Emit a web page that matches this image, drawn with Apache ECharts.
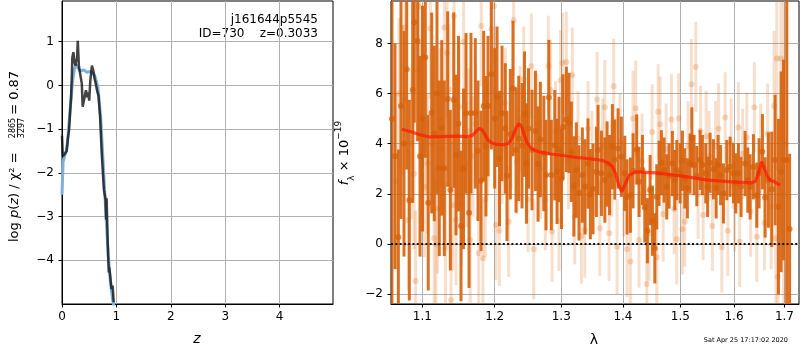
<!DOCTYPE html>
<html><head><meta charset="utf-8">
<script src="https://cdn.jsdelivr.net/npm/echarts@6/dist/echarts.min.js"></script>
<style>html,body{margin:0;padding:0;background:#fff}#c{width:800px;height:350px}</style>
</head><body><div id="c"></div>
<script>
// ---- tick labels ----
const zTicks = [0, 1, 2, 3, 4];
const logpTicks = [-4, -3, -2, -1, 0, 1];
const waveTicks = [1.1, 1.2, 1.3, 1.4, 1.5, 1.6, 1.7];
const fluxTicks = [-2, 0, 2, 4, 6, 8];

// ---- left panel: p(z) ----
const zChi = [0, 0.015, 0.025, 0.06, 0.086, 0.11, 0.13, 0.15, 0.167, 0.18, 0.19, 0.21, 0.23, 0.25, 0.26, 0.275, 0.29, 0.31, 0.333, 0.364, 0.38, 0.41, 0.44, 0.46, 0.48, 0.50, 0.52, 0.55, 0.575, 0.60, 0.62, 0.65, 0.67, 0.70, 0.73, 0.77, 0.80, 0.81, 0.82, 0.84, 0.86, 0.87, 0.91, 0.93, 0.95];
const logpChi = [-1.15, -1.62, -1.59, -1.55, -1.5, -1.2, -1.02, -0.6, -0.27, 0.2, 0.64, 0.76, 0.53, 0.45, 0.6, 0.55, 1.02, 0.45, 0.27, 0.04, -0.49, -0.45, -0.11, -0.27, -0.16, -0.35, 0.11, 0.45, 0.34, 0.15, 0.04, -0.15, -0.23, -0.72, -1.55, -2.39, -2.61, -3.07, -2.58, -3.6, -4.28, -4.17, -4.66, -4.58, -4.96];
const zFit = [0, 0.02, 0.05, 0.08, 0.1, 0.12, 0.15, 0.18, 0.2, 0.23, 0.26, 0.29, 0.33, 0.36, 0.4, 0.43, 0.46, 0.49, 0.52, 0.55, 0.6, 0.63, 0.66, 0.71, 0.74, 0.77, 0.8, 0.85, 0.89, 0.93, 0.96];
const logpFit = [-2.5, -1.75, -1.6, -1.5, -1.3, -1.0, -0.55, -0.1, 0.15, 0.38, 0.47, 0.45, 0.33, 0.3, 0.35, 0.36, 0.3, 0.27, 0.32, 0.36, 0.23, 0.1, -0.04, -0.72, -1.4, -2.08, -2.76, -3.9, -4.5, -4.9, -5.1];

// ---- right panel: spectrum (lambda in micron, f_lambda in 1e-19) ----
const darkWave = [1.0606,1.0645,1.0688,1.0722,1.0761,1.0796,1.0830,1.0874,1.0895,1.0939,
1.0970,1.1003,1.1040,1.1079,1.1125,1.1160,1.1196,1.1227,1.1260,1.1295,
1.1341,1.1377,1.1424,1.1455,1.1489,1.1524,1.1559,1.1594,1.1636,1.1663,
1.1724,1.1762,1.1804,1.1842,1.1875,1.1904,1.1952,1.2000,1.2034,1.2070,
1.2106,1.2154,1.2179,1.2228,1.2267,1.2312,1.2352,1.2401,1.2438,1.2468,
1.2498,1.2551,1.2602,1.2642,1.2678,1.2730,1.2764,1.2807,1.2846,1.2899,
1.2934,1.2965,1.3004,1.3028,1.3080,1.3122,1.3159,1.3198,1.3238,1.3280,
1.3334,1.3377,1.3425,1.3463,1.3506,1.3561,1.3588,1.3643,1.3699,1.3736,
1.3777,1.3824,1.3864,1.3919,1.3974,1.4031,1.4070,1.4127,1.4172,1.4234,
1.4274,1.4332,1.4373,1.4418,1.4465,1.4506,1.4547,1.4581,1.4622,1.4663,
1.4710,1.4757,1.4799,1.4858,1.4901,1.4936,1.4996,1.5038,1.5081,1.5128,
1.5177,1.5210,1.5250,1.5300,1.5361,1.5404,1.5466,1.5500,1.5547,1.5609,
1.5660,1.5697,1.5744,1.5798,1.5862,1.5925,1.5989,1.6034,1.6085,1.6137,
1.6215,1.6267,1.6313,1.6378,1.6444,1.6490,1.6556,1.6610,1.6676,1.6743,
1.6811,1.6878,1.6932,1.6980,1.7048,1.7106];
const darkFlux = [5.0,3.5,0.27,5.5,4.0,6.97,1.75,6.14,8.84,8.10,
3.5,5.0,7.44,1.65,5.23,4.41,6.0,3.02,4.63,3.02,
5.78,2.15,5.74,3.55,4.8,0.72,3.0,5.21,1.25,5.22,
5.21,3.72,2.52,5.50,3.9,5.50,6.77,5.01,5.87,3.41,
5.21,4.61,2.72,4.38,6.20,3.75,4.21,3.92,5.18,3.21,
4.61,3.75,4.51,3.19,4.17,3.61,2.75,5.84,2.75,3.94,
2.9,3.77,2.6,4.67,4.97,4.83,3.68,2.3,2.95,2.04,
2.75,2.28,3.21,1.99,2.19,2.88,3.75,2.82,2.55,3.19,
2.75,3.88,3.37,3.81,3.48,2.82,1.88,1.95,2.92,3.77,
2.48,2.95,1.46,0.53,2.15,0.93,-0.17,1.88,2.82,3.24,
2.95,2.28,2.71,3.21,2.55,2.95,2.82,3.32,2.62,2.22,
3.21,4.25,3.15,2.71,3.35,3.15,2.82,2.28,3.24,2.98,
2.22,3.15,2.75,2.02,2.95,3.08,2.82,2.42,2.82,2.28,
3.21,2.55,2.28,3.08,1.95,2.82,3.68,1.86,2.55,2.18,
3.35,1.49,2.88,3.35,3.35,0.6];
const darkErr = [8,4.5,3.5,4.5,4.5,4.0,4.0,4.5,4.0,4.0,
4.0,4.5,4.0,3.5,4.0,3.5,4.0,3.5,3.5,3.5,
3.5,3.2,3.5,3.2,3.5,3.0,3.2,3.2,3.0,3.2,
3.0,2.8,2.8,3.0,2.8,2.8,3.0,2.8,2.8,2.7,
2.7,2.6,2.6,2.6,2.7,2.5,2.5,2.5,2.5,2.4,
2.4,2.4,2.4,2.3,2.3,2.3,2.2,2.3,2.2,2.2,
2.1,2.1,2.0,2.1,2.1,2.0,2.0,2.0,1.9,1.9,
1.9,1.9,1.8,1.8,1.8,1.8,1.8,1.7,1.7,1.7,
1.6,1.7,1.6,1.6,1.6,1.5,1.5,1.5,1.5,1.4,
1.4,1.4,1.4,1.3,1.4,1.4,1.4,1.3,1.3,1.3,
1.3,1.3,1.3,1.3,1.2,1.2,1.2,1.2,1.2,1.2,
1.2,1.2,1.2,1.2,1.2,1.2,1.2,1.2,1.2,1.2,
1.2,1.2,1.2,1.2,1.2,1.2,1.2,1.2,1.2,1.2,
1.3,1.3,1.3,1.3,1.3,1.4,1.5,1.6,1.9,2.3,
2.6,3.5,4.0,4.0,9.0,3.0];

const lightWave = [1.0658,1.0697,1.0744,1.0774,1.0817,1.0852,1.0891,1.0911,1.0939,1.0960,
1.0983,1.1026,1.1049,1.1069,1.1106,1.1135,1.1158,1.1182,1.1205,1.1237,
1.1264,1.1295,1.1311,1.1331,1.1362,1.1387,1.1410,1.1428,1.1455,1.1500,
1.1531,1.1561,1.1604,1.1629,1.1653,1.1691,1.1727,1.1772,1.1808,1.1832,
1.1865,1.1904,1.1952,1.1973,1.1990,1.2019,1.2067,1.2106,1.2154,1.2204,
1.2238,1.2277,1.2327,1.2371,1.2426,1.2491,1.2541,1.2577,1.2627,1.2681,
1.2754,1.2799,1.2834,1.2857,1.2911,1.2965,1.2989,1.3020,1.3079,1.3114,
1.3174,1.3212,1.3265,1.3318,1.3372,1.3425,1.3490,1.3572,1.3616,1.3662,
1.3698,1.3769,1.3810,1.3846,1.3902,1.3952,1.4011,1.4070,1.4126,1.4172,
1.4218,1.4274,1.4326,1.4407,1.4447,1.4500,1.4582,1.4605,1.4640,1.4693,
1.4746,1.4840,1.4888,1.4936,1.4969,1.5037,1.5081,1.5140,1.5201,1.5282,
1.5324,1.5370,1.5417,1.5473,1.5528,1.5590,1.5650,1.5707,1.5767,1.5830,
1.5881,1.5944,1.6011,1.6085,1.6108,1.6167,1.6248,1.6323,1.6397,1.6445,
1.6520,1.6596,1.6660,1.6730,1.6790,1.6825,1.6845,1.6866,1.6926,1.6983,
1.7034];
const lightFlux = [2.5,6.0,5.74,8.63,0.96,4.0,2.8,-1.47,6.93,9.48,
5.21,2.28,4.74,3.21,8.59,4.0,0.23,-0.01,1.42,5.0,
3.8,8.63,-0.15,7.62,6.16,-2.23,1.55,9.08,0.96,5.47,
1.62,8.06,3.18,4.5,0.16,3.5,4.8,-0.37,8.69,-0.57,
1.78,4.2,8.57,6.14,9.48,0.76,0.53,3.8,5.61,0.89,
4.4,8.92,3.3,5.0,6.57,1.78,7.09,-0.21,4.8,3.0,
1.75,7.10,6.14,0.49,4.5,0.93,6.53,7.22,7.26,3.3,
6.73,1.09,4.2,0.32,0.56,4.6,3.4,5.76,0.63,3.9,
5.45,0.43,3.0,6.29,-0.11,4.1,2.2,-0.21,-0.7,5.01,
5.41,0.16,3.3,-1.59,0.43,4.47,-0.53,5.27,4.78,1.2,
3.8,4.97,1.4,0.19,5.01,0.59,0.89,3.9,6.37,7.06,
2.0,4.51,1.16,4.3,3.5,0.72,3.9,4.6,-0.13,5.05,
0.53,4.0,1.5,4.65,0.09,3.6,4.25,1.3,5.45,0.29,
3.8,0.85,4.4,1.5,5.5,0.23,7.40,-1.3,7.40,2.0,
4.0];
const lightErr = [3.5,3.0,3.0,3.0,2.8,3.0,3.0,2.8,2.8,3.0,
2.8,2.8,2.8,2.8,2.8,2.8,2.8,2.6,2.6,2.8,
2.6,2.8,2.6,2.6,2.6,2.6,2.6,2.6,2.6,2.6,
2.5,2.6,2.5,2.5,2.5,2.4,2.4,2.3,2.4,2.3,
2.3,2.3,2.3,2.3,2.3,2.2,2.2,2.2,2.2,2.2,
2.2,2.2,2.1,2.1,2.1,2.1,2.1,2.0,2.0,2.0,
2.0,2.0,2.0,2.0,2.0,2.0,2.0,2.0,2.0,1.9,
1.9,1.9,1.9,1.9,1.9,1.9,1.9,1.9,1.9,1.9,
1.9,1.9,1.9,1.9,1.9,1.9,1.9,1.9,1.9,1.9,
1.9,1.9,1.9,1.9,1.9,1.9,1.9,1.9,1.9,1.9,
1.8,1.8,1.8,1.8,1.8,1.8,1.8,1.8,1.8,1.8,
1.8,1.8,1.8,1.8,1.8,1.8,1.8,1.8,1.8,1.8,
1.8,1.8,1.8,1.8,1.8,1.8,1.8,1.8,1.8,1.8,
1.8,1.9,2.0,2.5,3.0,3.0,4.5,4.0,6.0,8.0,
9.0];

const modelWave = [1.0731,1.085,1.098,1.110,1.125,1.146,1.160,1.168,1.174,1.178,1.182,1.187,1.1906,1.197,1.204,1.213,1.220,1.226,1.231,1.2356,1.240,1.244,1.248,1.2556,1.265,1.2843,1.305,1.3245,1.345,1.3665,1.376,1.3826,1.388,1.393,1.398,1.403,1.4107,1.4218,1.4563,1.503,1.5518,1.5956,1.6343,1.642,1.648,1.654,1.659,1.664,1.6706,1.680,1.6909];
const modelFlux = [4.58,4.48,4.35,4.27,4.28,4.30,4.28,4.32,4.50,4.61,4.55,4.32,4.14,4.02,3.97,3.96,4.01,4.25,4.62,4.81,4.65,4.30,4.02,3.78,3.68,3.59,3.52,3.45,3.40,3.33,3.22,3.08,2.80,2.35,2.08,2.35,2.75,2.88,2.84,2.71,2.55,2.48,2.44,2.50,2.85,3.28,3.05,2.75,2.55,2.48,2.35];

const FONT = 'DejaVu Sans';
const zip2 = (a, b) => a.map((v, i) => [v, b[i]]);
const zip3 = (a, b, c) => a.map((v, i) => [v, b[i], c[i]]);
const minus = v => String(v).replace('-', '\u2212');

function errRender(color, width) {
  return function (params, api) {
    const x = api.value(0), y = api.value(1), e = api.value(2);
    const p1 = api.coord([x, y - e]);
    const p2 = api.coord([x, y + e]);
    return { type: 'line', shape: { x1: p1[0], y1: p1[1], x2: p2[0], y2: p2[1] },
      style: { stroke: color, lineWidth: width } };
  };
}

const tickStyle = { show: true, inside: false, length: 3.5, lineStyle: { color: '#000', width: 1 } };
const labelStyle = { color: '#000', fontFamily: FONT, fontSize: 12 };
const splitStyle = { show: true, lineStyle: { color: '#b0b0b0', width: 1 } };
const lineAx = { show: true, onZero: false, lineStyle: { color: '#000', width: 1 } };

const chart = echarts.init(document.getElementById('c'));
chart.setOption({
  animation: false,
  backgroundColor: '#fff',
  grid: [
    { left: 62, top: 1, width: 271, height: 303, show: true, borderColor: '#000', borderWidth: 1, backgroundColor: 'transparent', containLabel: false, outerBoundsMode: 'none' },
    { left: 391, top: 1, width: 408, height: 303, show: true, borderColor: '#000', borderWidth: 1, backgroundColor: 'transparent', containLabel: false, outerBoundsMode: 'none' }
  ],
  xAxis: [
    { type: 'value', gridIndex: 0, min: 0, max: 4.98, axisLine: lineAx,
      axisTick: Object.assign({}, tickStyle, { customValues: zTicks }),
      axisLabel: Object.assign({}, labelStyle, { margin: 7, customValues: zTicks, formatter: minus }),
      splitLine: splitStyle },
    { type: 'log', logBase: 10, gridIndex: 1, min: 1.0594, max: 1.730, axisLine: lineAx,
      axisTick: Object.assign({}, tickStyle, { customValues: waveTicks }),
      axisLabel: Object.assign({}, labelStyle, { margin: 7, customValues: waveTicks, formatter: v => Number(v).toFixed(1) }),
      splitLine: splitStyle, minorTick: { show: false }, minorSplitLine: { show: false } }
  ],
  yAxis: [
    { type: 'value', gridIndex: 0, min: -5.0, max: 1.93, axisLine: lineAx,
      axisTick: Object.assign({}, tickStyle, { customValues: logpTicks }),
      axisLabel: Object.assign({}, labelStyle, { margin: 8, customValues: logpTicks, formatter: minus }),
      splitLine: splitStyle },
    { type: 'value', gridIndex: 1, min: -2.39, max: 9.69, axisLine: lineAx,
      axisTick: Object.assign({}, tickStyle, { customValues: fluxTicks }),
      axisLabel: Object.assign({}, labelStyle, { margin: 8, customValues: fluxTicks, formatter: minus }),
      splitLine: splitStyle }
  ],
  series: [
    { type: 'line', xAxisIndex: 0, yAxisIndex: 0, data: zip2(zFit, logpFit), showSymbol: false, z: 2,
      lineStyle: { color: '#7fb1d8', width: 3 } },
    { type: 'line', xAxisIndex: 0, yAxisIndex: 0, data: zip2(zChi, logpChi), showSymbol: false, z: 3,
      lineStyle: { color: 'rgba(20,20,20,0.8)', width: 2.5 } },
    { type: 'custom', xAxisIndex: 1, yAxisIndex: 1, clip: true, z: 2,
      data: zip3(lightWave, lightFlux, lightErr), renderItem: errRender('rgba(217,95,2,0.2)', 3) },
    { type: 'scatter', xAxisIndex: 1, yAxisIndex: 1, z: 3, symbolSize: 6,
      data: zip2(lightWave, lightFlux), itemStyle: { color: 'rgba(217,95,2,0.28)' } },
    { type: 'custom', xAxisIndex: 1, yAxisIndex: 1, clip: true, z: 4,
      data: zip3(darkWave, darkFlux, darkErr), renderItem: errRender('rgba(214,96,10,0.9)', 3) },
    { type: 'scatter', xAxisIndex: 1, yAxisIndex: 1, z: 5, symbolSize: 6,
      data: zip2(darkWave, darkFlux), itemStyle: { color: 'rgba(214,96,10,0.9)' } },
    { type: 'line', xAxisIndex: 1, yAxisIndex: 1, z: 6, data: zip2(modelWave, modelFlux), showSymbol: false,
      lineStyle: { color: 'rgba(255,25,0,0.72)', width: 3.2 },
      markLine: { silent: true, symbol: ['none', 'none'], label: { show: false },
        lineStyle: { color: '#111', width: 2, type: [2, 2.3] }, data: [{ yAxis: 0 }] } }
  ],
  graphic: [
    { type: 'text', x: 318, y: 20, style: { text: 'j161644p5545', fontFamily: FONT, fontSize: 12, fill: '#000', align: 'right', verticalAlign: 'middle' } },
    { type: 'text', x: 318, y: 34, style: { text: 'ID=730    z=0.3033', fontFamily: FONT, fontSize: 12, fill: '#000', align: 'right', verticalAlign: 'middle' } },
    { type: 'text', x: 197, y: 339, style: { text: 'z', fontFamily: FONT, fontSize: 14, fontStyle: 'italic', fill: '#000', align: 'center', verticalAlign: 'middle' } },
    { type: 'text', x: 594, y: 340, style: { text: '\u03bb', fontFamily: FONT, fontSize: 14, fill: '#000', align: 'center', verticalAlign: 'middle' } },
    { type: 'text', x: 788, y: 340, style: { text: 'Sat Apr 25 17:17:02 2020', fontFamily: FONT, fontSize: 6.5, fill: '#000', align: 'right', verticalAlign: 'middle' } },
    { type: 'group', x: 15, y: 156, rotation: Math.PI / 2, children: [
      { type: 'text', x: -86, y: 0, style: { text: '{n|log }{i|p}{n|(}{i|z}{n|) / \u03c7\u00b2 = }', align: 'left', verticalAlign: 'middle',
        rich: { n: { fontFamily: FONT, fontSize: 13, fill: '#000' }, i: { fontFamily: FONT, fontSize: 13, fontStyle: 'italic', fill: '#000' } } } },
      { type: 'text', x: 28, y: -2, style: { text: '2865', fontFamily: FONT, fontSize: 8, fill: '#000', align: 'center', verticalAlign: 'middle' } },
      { type: 'line', shape: { x1: 19, y1: 2.5, x2: 37, y2: 2.5 }, style: { stroke: '#000', lineWidth: 0.8 } },
      { type: 'text', x: 28, y: 7, style: { text: '3297', fontFamily: FONT, fontSize: 8, fill: '#000', align: 'center', verticalAlign: 'middle' } },
      { type: 'text', x: 37, y: 0, style: { text: ' = 0.87', fontFamily: FONT, fontSize: 13, fill: '#000', align: 'left', verticalAlign: 'middle' } }
    ] },
    { type: 'group', x: 345, y: 153, rotation: Math.PI / 2, children: [
      { type: 'text', x: 0, y: 0, style: { text: '{i|f}{sub|\u03bb}{n| \u00d7 10}{sup|\u221219}', align: 'center', verticalAlign: 'middle',
        rich: {
          i: { fontFamily: FONT, fontSize: 13, fontStyle: 'italic', fill: '#000', lineHeight: 22, verticalAlign: 'middle' },
          n: { fontFamily: FONT, fontSize: 13, fill: '#000', lineHeight: 22, verticalAlign: 'middle' },
          sub: { fontFamily: FONT, fontSize: 9, fill: '#000', lineHeight: 9, verticalAlign: 'bottom' },
          sup: { fontFamily: FONT, fontSize: 9, fill: '#000', lineHeight: 9, verticalAlign: 'top' }
        } } }
    ] }
  ]
});
</script></body></html>
